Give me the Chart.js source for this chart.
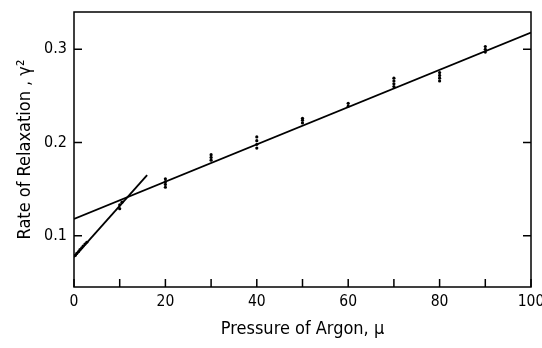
<!DOCTYPE html>
<html>
<head>
<meta charset="utf-8">
<script src="https://cdn.jsdelivr.net/npm/chart.js@4"></script>
<style>
    html, body { margin: 0; padding: 0; background: #fff; }
    #wrap { width: 542px; height: 348px; position: relative; }
</style>
</head>
<body>
<div id="wrap"><canvas id="relaxChart"></canvas></div>
<script>
// measured points: pressure (x) and relaxation rate (y)
const pressureX = [0.3, 0.6, 1.0, 1.3, 1.7, 2.0, 2.4, 2.8,
    10, 10, 10.5,
    20, 20, 20, 20,
    30, 30, 30,
    40, 40, 40, 40,
    50, 50, 50,
    60, 60,
    70, 70, 70, 70,
    80, 80, 80, 80,
    90, 90, 90];
const rateY = [0.079, 0.081, 0.083, 0.085, 0.087, 0.089, 0.091, 0.093,
    0.129, 0.133, 0.136,
    0.152, 0.155, 0.158, 0.161,
    0.181, 0.184, 0.187,
    0.194, 0.198, 0.202, 0.206,
    0.221, 0.224, 0.226,
    0.239, 0.242,
    0.260, 0.263, 0.266, 0.269,
    0.266, 0.269, 0.272, 0.275,
    0.297, 0.300, 0.303];

// fitted lines (end points)
const highFitX = [0, 100];
const highFitY = [0.118, 0.318];
const lowFitX = [0, 16];
const lowFitY = [0.077, 0.165];

const xTicks = [0, 20, 40, 60, 80, 100];
const xMinorTicks = [10, 30, 50, 70, 90];
const yTicks = [0.1, 0.2, 0.3];

const toPoints = (xs, ys) => xs.map((x, i) => ({ x: x, y: ys[i] }));

const FONT = '"Liberation Sans Narrow", "DejaVu Sans Condensed", "Liberation Sans", sans-serif';

// frame box and inward tick marks
const frameTicks = {
    id: 'frameTicks',
    afterDatasetsDraw(chart) {
        const { ctx, chartArea: a, scales: { x, y } } = chart;
        ctx.save();
        ctx.strokeStyle = '#000';
        ctx.lineWidth = 1.5;
        ctx.strokeRect(a.left, a.top, a.right - a.left, a.bottom - a.top);
        ctx.beginPath();
        xTicks.concat(xMinorTicks).forEach(v => {
            const px = x.getPixelForValue(v);
            ctx.moveTo(px, a.bottom);
            ctx.lineTo(px, a.bottom - 8);
        });
        yTicks.forEach(v => {
            const py = y.getPixelForValue(v);
            ctx.moveTo(a.left, py);
            ctx.lineTo(a.left + 8, py);
            ctx.moveTo(a.right, py);
            ctx.lineTo(a.right - 8, py);
        });
        ctx.stroke();
        ctx.restore();
    }
};

new Chart(document.getElementById('relaxChart'), {
    type: 'scatter',
    data: {
        datasets: [
            {
                data: toPoints(highFitX, highFitY),
                showLine: true,
                borderColor: '#000',
                borderWidth: 1.8,
                pointRadius: 0
            },
            {
                data: toPoints(lowFitX, lowFitY),
                showLine: true,
                borderColor: '#000',
                borderWidth: 1.8,
                pointRadius: 0
            },
            {
                data: toPoints(pressureX, rateY),
                backgroundColor: '#000',
                borderColor: '#000',
                pointRadius: 1.6,
                borderWidth: 0
            }
        ]
    },
    options: {
        responsive: true,
        maintainAspectRatio: false,
        animation: false,
        layout: { padding: { left: 0, right: 11, top: 12, bottom: 0 } },
        plugins: {
            legend: { display: false },
            tooltip: { enabled: false }
        },
        scales: {
            x: {
                type: 'linear',
                min: 0,
                max: 100,
                border: { display: false },
                grid: { display: false, drawTicks: false },
                afterBuildTicks: (s) => { s.ticks = xTicks.map(v => ({ value: v })); },
                afterFit: (s) => { s.height = 61; s.paddingLeft = 0; s.paddingRight = 0; },
                ticks: {
                    color: '#000',
                    padding: 6,
                    maxRotation: 0,
                    font: { family: FONT, size: 15.5 }
                },
                title: {
                    display: true,
                    text: 'Pressure of Argon, \u03bc',
                    color: '#000',
                    padding: { top: 0, bottom: 8 },
                    font: { family: FONT, size: 18 }
                }
            },
            y: {
                type: 'linear',
                min: 0.045,
                max: 0.34,
                border: { display: false },
                grid: { display: false, drawTicks: false },
                afterBuildTicks: (s) => { s.ticks = yTicks.map(v => ({ value: v })); },
                afterFit: (s) => { s.width = 74; s.paddingTop = 0; s.paddingBottom = 0; },
                ticks: {
                    color: '#000',
                    padding: 7,
                    callback: (v) => v.toFixed(1),
                    font: { family: FONT, size: 16 }
                },
                title: {
                    display: true,
                    text: 'Rate of Relaxation , \u03b3\u00b2',
                    color: '#000',
                    padding: { top: 15, bottom: 0 },
                    font: { family: FONT, size: 18 }
                }
            }
        }
    },
    plugins: [frameTicks]
});
</script>
</body>
</html>
